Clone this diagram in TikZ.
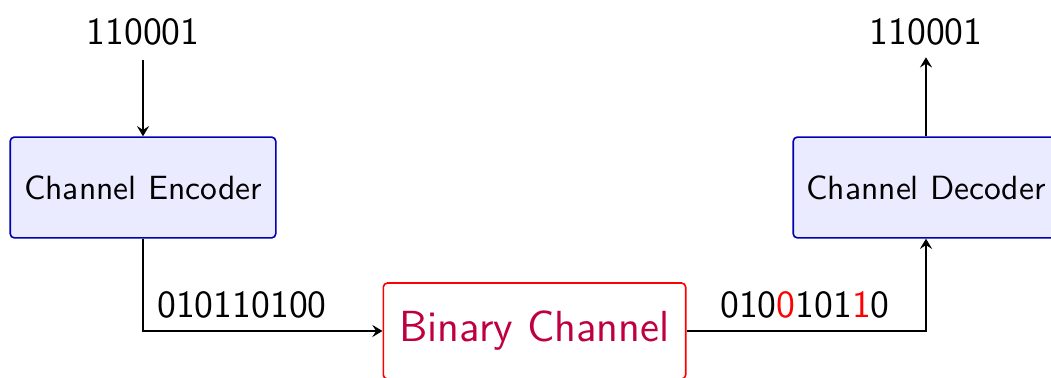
\documentclass[tikz,border=0pt]{standalone}
\usepackage{tikz}
\usetikzlibrary{positioning,arrows.meta}

\tikzset{
  coder/.style={draw=blue!70!black, fill=blue!8, rounded corners=1.3pt,
    minimum width=83pt, minimum height=31.5pt, font=\sffamily\fontsize{10.5}{12}\selectfont},
  channel/.style={draw=red, fill=white, rounded corners=1.3pt, text=purple,
    minimum width=94.5pt, minimum height=30pt, font=\sffamily\fontsize{13.6}{16}\selectfont},
  bits/.style={font=\sffamily\fontsize{12}{14}\selectfont, inner sep=0pt},
}

\begin{document}
\begin{tikzpicture}[x=0.3125pt, y=-0.3125pt, line width=0.5pt,
    >={Stealth[length=3.2pt, width=3.8pt, inset=1.2pt]}]
    \clip (0,0) rectangle (1051,378);
    % blocks
    \node[coder] (enc) at (143,187.5) {Channel Encoder};
    \node[coder] (dec) at (926,187.5) {Channel Decoder};
    \node[channel] (chan) at (534.5,331) {Binary Channel};
    % message words and code words
    \node[bits] (msg) at (143,32) {110001};
    \node[bits] (est) at (926,32) {110001};
    \node[bits] (sent) at (242,305) {010110100};
    \node[bits] (recv) at (805,305) {010\textcolor{red}{0}101\textcolor{red}{1}0};
    % connections
    \draw [->] (msg.south) ++(0,14) -- (enc.north);
    \draw [->] (enc.south) |- (chan.west);
    \draw [->] (chan.east) -| (dec.south);
    \draw [->] (dec.north) -- ++(0,-79);
\end{tikzpicture}
\end{document}
